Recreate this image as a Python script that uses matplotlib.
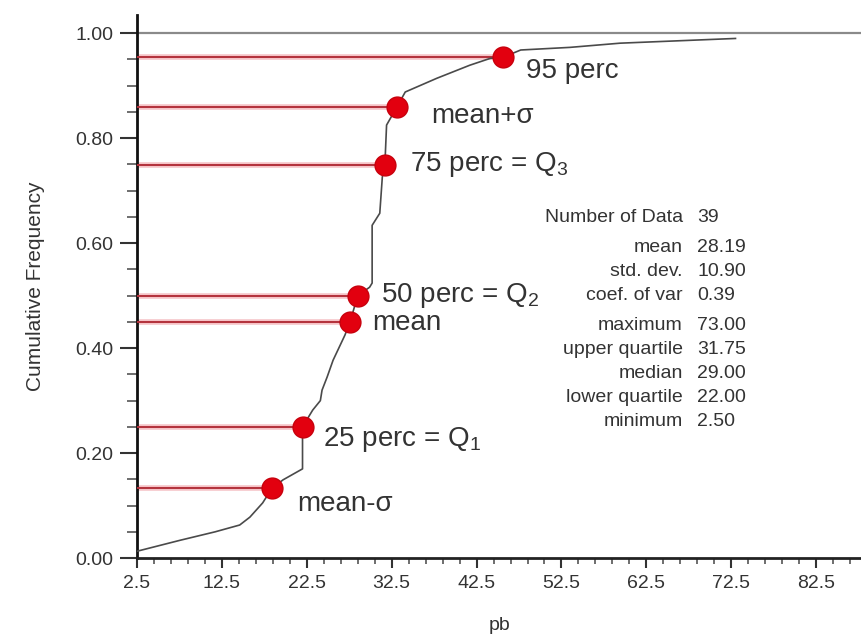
import numpy as np
import matplotlib
matplotlib.use("Agg")
import matplotlib.pyplot as plt
from matplotlib.ticker import FixedLocator, FormatStrFormatter

plt.rcParams['font.family'] = ['Liberation Sans', 'DejaVu Sans']

# curva de frequencia acumulada
cdf_x = [2.5, 7.6, 11.7, 14.6, 15.8, 17.3, 18.4, 19.7, 22.0, 22.0, 23.2, 24.1,
         24.3, 24.9, 25.6, 27.0, 27.6, 28.5, 29.9, 30.2, 30.2, 31.1, 31.4, 31.7,
         31.9, 33.1, 34.1, 37.8, 41.7, 44.1, 45.6, 47.7, 53.5, 59.4, 73.0]
cdf_y = [0.013, 0.034, 0.05, 0.063, 0.078, 0.105, 0.133, 0.149, 0.17, 0.25,
         0.282, 0.30, 0.32, 0.345, 0.377, 0.425, 0.45, 0.50, 0.516, 0.524, 0.634,
         0.657, 0.726, 0.749, 0.825, 0.859, 0.888, 0.914, 0.939, 0.952, 0.954,
         0.968, 0.973, 0.981, 0.99]

# pontos marcados
pt_labels = ['95 perc', 'mean+σ', r'75 perc = Q$_\mathregular{3}$',
             r'50 perc = Q$_\mathregular{2}$', 'mean',
             r'25 perc = Q$_\mathregular{1}$', 'mean-σ']
pt_x = [45.6, 33.1, 31.7, 28.5, 27.6, 22.0, 18.4]
pt_y = [0.954, 0.859, 0.749, 0.50, 0.45, 0.25, 0.133]

# estatisticas
stat_names = ['Number of Data', 'mean', 'std. dev.', 'coef. of var',
              'maximum', 'upper quartile', 'median', 'lower quartile', 'minimum']
stat_values = ['39', '28.19', '10.90', '0.39',
               '73.00', '31.75', '29.00', '22.00', '2.50']
stat_group = [0, 1, 1, 1, 2, 2, 2, 2, 2]

fig = plt.figure(figsize=(8.62, 6.4), dpi=100)
ax = fig.add_axes([0.1589, 0.128, 0.8411, 0.848])
ax.set_xlim(2.5, 87.9)
ax.set_ylim(0, 1.034)

ax.axhline(1.0, color='#8a8a8a', lw=1.6, zorder=1)

for x, y in zip(pt_x, pt_y):
    ax.hlines(y, 2.5, x, color='#f6c3c7', lw=4, zorder=2)
    ax.hlines(y, 2.5, x, color='#b3313b', lw=1.4, zorder=3)

ax.plot(cdf_x, cdf_y, color='#4a4a4a', lw=1.2, zorder=4)
ax.plot(pt_x, pt_y, 'o', ms=15, color='#e2000f', mec='#c8000c', mew=1, zorder=5)

offsets = [(16.5, -9.5), (25, -6), (18, 0), (17, 0), (16, -1), (15, -9), (18, -11)]
for lab, x, y, off in zip(pt_labels, pt_x, pt_y, offsets):
    ax.annotate(lab, (x, y), xytext=off, textcoords='offset points',
                ha='left', va='center', fontsize=20, color='#333333')

# bloco de estatisticas
y0 = 0.649
step = 0.0457
gap = 0.012
for i, (nm, val, g) in enumerate(zip(stat_names, stat_values, stat_group)):
    yy = y0 - i * step - g * gap
    ax.text(66.8, yy, nm, ha='right', va='center', fontsize=14, color='#333333')
    ax.text(68.5, yy, val, ha='left', va='center', fontsize=14, color='#333333')

for s in ['top', 'right']:
    ax.spines[s].set_visible(False)
ax.spines['left'].set_linewidth(2)
ax.spines['bottom'].set_linewidth(2)
ax.spines['left'].set_color('#111111')
ax.spines['bottom'].set_color('#222222')

ax.xaxis.set_major_locator(FixedLocator(np.arange(2.5, 88, 10)))
ax.xaxis.set_minor_locator(FixedLocator(np.arange(2.5, 88, 2)))
ax.yaxis.set_major_locator(FixedLocator(np.arange(0, 1.01, 0.2)))
ax.yaxis.set_minor_locator(FixedLocator(np.arange(0, 1.01, 0.05)))
ax.xaxis.set_major_formatter(FormatStrFormatter('%.1f'))
ax.yaxis.set_major_formatter(FormatStrFormatter('%.2f'))

ax.tick_params(axis='x', which='major', direction='out', length=7, width=1.5,
               pad=5, labelsize=14, labelcolor='#333333', color='#333333')
ax.tick_params(axis='x', which='minor', direction='out', length=4, width=1.2,
               color='#555555')
ax.tick_params(axis='y', which='major', direction='out', length=12, width=1.5,
               pad=5, labelsize=14, labelcolor='#333333', color='#333333')
ax.tick_params(axis='y', which='minor', direction='out', length=7, width=1.2,
               color='#555555')

ax.set_xlabel('pb', fontsize=14, color='#333333', labelpad=18)
ax.set_ylabel('Cumulative Frequency', fontsize=15, color='#333333', labelpad=22)

fig.savefig('out.png', dpi=100)
